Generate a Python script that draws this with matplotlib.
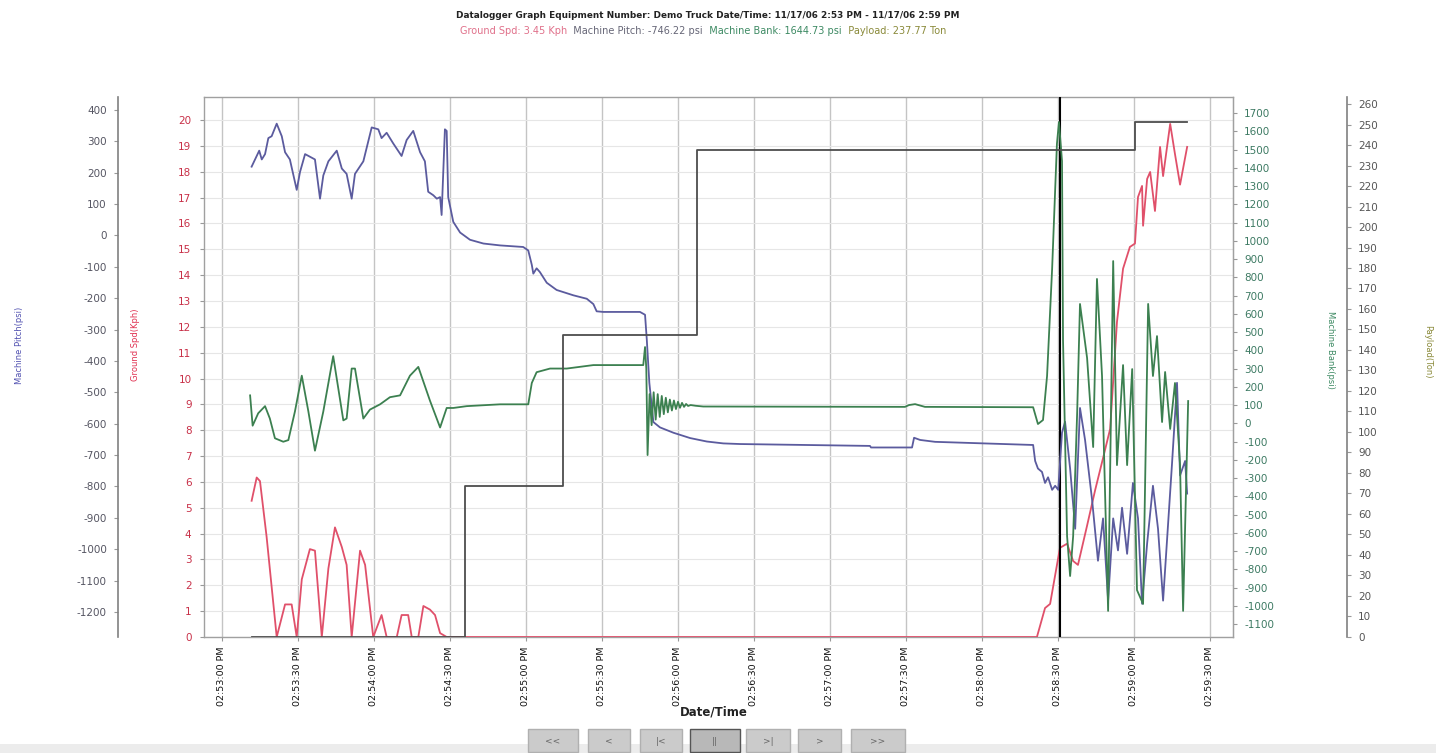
import datetime as dt
import matplotlib
matplotlib.use('Agg')
import matplotlib.pyplot as plt
import matplotlib.patches as mpatches
from matplotlib.ticker import MultipleLocator, FuncFormatter

plt.rcParams['axes.unicode_minus'] = False

# ── Data (seconds after START) ────────────────────────────────────────────
START = dt.datetime(2006, 11, 17, 14, 53, 0)
CURSOR_T = 330.8

pitch_t = [11.7, 13.7, 14.7, 15.7, 17.0, 18.3, 19.6, 21.6, 23.6, 24.9,
           26.8, 29.5, 30.8, 32.8, 36.7, 38.7, 40.0, 42.0, 45.3, 47.3,
           49.2, 51.2, 52.5, 55.8, 59.1, 61.7, 63.0, 65.0, 67.6, 70.9,
           72.9, 75.5, 78.2, 80.1, 81.4, 83.4, 84.8, 86.1, 86.7, 88.0,
           88.7, 89.3, 91.3, 94.0, 97.9, 103.2, 109.8, 118.9, 120.9, 122.3,
           122.9, 124.2, 125.5, 128.2, 132.1, 138.7, 144.0, 146.6, 147.9, 150.5,
           165.0, 167.0, 167.7, 168.7, 170.3, 172.9, 178.2, 184.8, 191.4, 197.9,
           204.5, 255.8, 256.2, 272.4, 273.2, 275.6, 281.5, 320.2, 321.0, 322.1,
           323.7, 324.9, 326.1, 327.7, 328.9, 330.1, 331.6, 332.8, 334.8, 336.8,
           338.7, 340.7, 343.5, 345.8, 347.8, 349.8, 351.8, 353.7, 355.3, 357.3,
           359.6, 361.6, 363.2, 365.2, 367.5, 369.5, 371.5, 375.0, 377.0, 378.2,
           380.2, 381.0]
pitch_v = [219, 253, 270, 242, 259, 310, 316, 356, 316, 265,
           242, 145, 202, 259, 242, 117, 191, 236, 270, 213,
           196, 117, 196, 236, 344, 338, 310, 327, 293, 253,
           304, 333, 265, 236, 139, 128, 117, 122, 65, 338,
           333, 122, 43, 9, -14, -26, -32, -37, -48, -94,
           -122, -105, -117, -151, -174, -191, -202, -219, -242, -244,
           -244, -253, -333, -470, -595, -612, -629, -646, -657, -663,
           -665, -671, -676, -676, -645, -652, -658, -668, -719, -743,
           -754, -789, -771, -811, -798, -811, -629, -594, -743, -935,
           -550, -652, -845, -1037, -902, -1164, -902, -1004, -868, -1015,
           -789, -902, -1174, -982, -798, -935, -1164, -731, -470, -765,
           -719, -823]

bank_t = [11.1, 12.1, 14.3, 17.0, 18.9, 20.9, 24.2, 26.2, 28.8, 31.5,
          34.1, 36.7, 40.0, 43.9, 47.9, 49.2, 51.2, 52.5, 55.8, 58.4,
          62.4, 66.3, 70.3, 74.2, 77.5, 82.1, 86.1, 88.7, 91.3, 96.6,
          109.8, 120.9, 122.3, 124.2, 129.5, 136.1, 146.6, 166.3, 167.0, 167.5,
          168.0, 168.8, 169.6, 170.4, 171.2, 172.0, 172.8, 173.6, 174.4, 175.2,
          176.0, 176.8, 177.6, 178.4, 179.2, 180.0, 180.8, 181.6, 182.4, 183.2,
          184.0, 185.0, 187.0, 190.0, 269.6, 271.2, 273.6, 277.5, 320.2, 322.1,
          324.1, 325.7, 327.7, 329.6, 330.4, 331.6, 332.0, 333.6, 334.8, 336.0,
          337.6, 338.7, 341.5, 343.9, 345.4, 347.4, 349.8, 351.8, 353.3, 355.7,
          357.3, 359.3, 361.2, 363.6, 365.6, 367.5, 369.1, 371.1, 372.3, 374.3,
          376.2, 378.2, 379.4, 381.4]
bank_v = [153, -13, 55, 94, 26, -82, -101, -92, 65, 261,
          65, -150, 65, 368, 16, 26, 300, 300, 26, 75,
          104, 143, 153, 261, 309, 124, -23, 84, 84, 94,
          104, 104, 221, 280, 300, 300, 319, 319, 418, 300,
          -174, 160, -10, 170, 20, 160, 35, 150, 50, 140,
          60, 130, 70, 125, 78, 118, 85, 112, 90, 106,
          95, 100, 96, 92, 90, 100, 105, 90, 88, -4,
          18, 259, 847, 1532, 1651, 1437, 456, -618, -837, -618,
          67, 654, 358, -130, 791, 259, -1028, 889, -229, 319,
          -229, 297, -914, -990, 654, 259, 478, 7, 281, -31,
          221, -229, -1028, 122]

speed_t = [11.7, 13.7, 15.0, 17.6, 21.6, 24.9, 27.5, 29.5, 31.5, 34.7,
           36.7, 39.4, 42.0, 44.6, 47.3, 49.2, 51.2, 54.5, 56.5, 59.7,
           63.0, 65.0, 69.0, 70.9, 73.5, 74.9, 77.5, 79.5, 82.1, 84.1,
           86.1, 88.7, 321.7, 324.9, 326.9, 330.8, 333.6, 336.0, 337.9, 341.5,
           344.7, 347.8, 350.6, 353.3, 355.7, 358.4, 360.4, 361.6, 363.2, 363.6,
           365.2, 366.4, 368.3, 370.3, 371.5, 374.3, 376.2, 378.2, 381.0]
speed_v = [5.27, 6.17, 6.03, 3.89, 0, 1.26, 1.26, 0, 2.23, 3.40,
           3.34, 0, 2.65, 4.24, 3.48, 2.79, 0, 3.34, 2.79, 0,
           0.85, 0, 0, 0.85, 0.85, 0, 0, 1.2, 1.06, 0.85,
           0.15, 0, 0, 1.12, 1.28, 3.45, 3.61, 2.94, 2.79, 4.31,
           5.69, 6.92, 8.05, 12.19, 14.25, 15.09, 15.22, 17.02, 17.45, 15.91,
           17.72, 17.99, 16.48, 18.96, 17.83, 19.85, 18.68, 17.5, 18.96]

payload_t = [11.7, 95.9, 134.7, 187.4, 360.4, 381.0]
payload_v = [0, 73.7, 147.1, 237.8, 251.2, 251.2]

# ── Colors ────────────────────────────────────────────────────────────────
PITCHC = '#5b5b9e'
SPEEDC = '#e0506a'
BANKC = '#3c8050'
PAYC = '#4d4d4d'

W, H = 1436, 753
fig = plt.figure(figsize=(W / 100, H / 100), dpi=100)
fig.patch.set_facecolor('white')


def fx(px):
    return px / W


def fy(py):
    return 1 - py / H


# plot area: x 204..1233, y 97..637 (pixels from top-left)
ax = fig.add_axes([fx(204), fy(637), fx(1233 - 204), (637 - 97) / H])
axb = ax.twinx()   # machine pitch, far left
axg = ax.twinx()   # machine bank, right
axo = ax.twinx()   # payload, far right

TICKFS = 7.5

# speed (primary, inner left)
ax.plot(speed_t, speed_v, color=SPEEDC, lw=1.3, zorder=3)
ax.set_ylim(0, 20.89)
ax.yaxis.set_major_locator(MultipleLocator(1))
ax.tick_params(axis='y', labelsize=TICKFS, labelcolor='#c83048', length=3,
               color='#999999', pad=6)
ax.set_xlim(-7.1, 399.1)
ax.xaxis.set_major_locator(MultipleLocator(30))
ax.xaxis.set_major_formatter(FuncFormatter(
    lambda t, pos: (START + dt.timedelta(seconds=t)).strftime('%I:%M:%S %p')))
ax.tick_params(axis='x', labelsize=6.8, labelrotation=90, labelcolor='#111111',
               length=3, color='#999999', pad=4)
ax.grid(axis='x', color='#c4c4c4', lw=1.0)
ax.grid(axis='y', color='#e6e6e6', lw=0.8)
ax.set_axisbelow(True)
for s in ax.spines.values():
    s.set_color('#a0a0a0')
    s.set_linewidth(1.0)

# machine pitch
axb.plot(pitch_t, pitch_v, color=PITCHC, lw=1.3, zorder=3)
axb.set_ylim(-1280, 441)
axb.yaxis.set_major_locator(MultipleLocator(100))
axb.yaxis.tick_left()
axb.spines['left'].set_position(('axes', (118 - 204) / (1233 - 204)))
axb.spines['left'].set_visible(True)
axb.spines['left'].set_color('#808080')
axb.spines['left'].set_linewidth(1.2)
axb.spines['right'].set_visible(False)
axb.spines['top'].set_visible(False)
axb.spines['bottom'].set_visible(False)
axb.tick_params(axis='y', labelsize=TICKFS, labelcolor='#555562', length=3,
                color='#999999', pad=5)

# machine bank
axg.plot(bank_t, bank_v, color=BANKC, lw=1.3, zorder=3)
axg.set_ylim(-1171, 1788)
axg.yaxis.set_major_locator(MultipleLocator(100))
axg.spines['right'].set_color('#a0a0a0')
axg.tick_params(axis='y', labelsize=TICKFS, labelcolor='#3d7a63', length=3,
                color='#999999', pad=5)
for k in ('left', 'top', 'bottom'):
    axg.spines[k].set_visible(False)

# payload
axo.plot(payload_t, payload_v, color=PAYC, lw=1.3, drawstyle='steps-post', zorder=3)
axo.set_ylim(-0.2, 263.5)
axo.yaxis.set_major_locator(MultipleLocator(10))
axo.spines['right'].set_position(('axes', (1347 - 204) / (1233 - 204)))
axo.spines['right'].set_color('#808080')
axo.spines['right'].set_linewidth(1.2)
axo.tick_params(axis='y', labelsize=TICKFS, labelcolor='#555555', length=3,
                color='#999999', pad=5)
for k in ('left', 'top', 'bottom'):
    axo.spines[k].set_visible(False)

# cursor
ax.axvline(CURSOR_T, color='black', lw=1.5, zorder=6)

# ── Axis titles ───────────────────────────────────────────────────────────
LBLFS = 6
fig.text(fx(20), fy(345), 'Machine Pitch(psi)', rotation=90, ha='center',
         va='center', fontsize=LBLFS, color='#5050b0')
fig.text(fx(135), fy(345), 'Ground Spd(Kph)', rotation=90, ha='center',
         va='center', fontsize=LBLFS, color='#e03050')
fig.text(fx(1330), fy(350), 'Machine Bank(psi)', rotation=-90, ha='center',
         va='center', fontsize=LBLFS, color='#3d8a63')
fig.text(fx(1428), fy(352), 'Payload(Ton)', rotation=-90, ha='center',
         va='center', fontsize=LBLFS, color='#8a8a3a')

fig.text(fx(714), fy(712), 'Date/Time', ha='center', va='center',
         fontsize=8.5, fontweight='bold', color='#222222')

# ── Title ─────────────────────────────────────────────────────────────────
fig.text(fx(708), fy(15),
         'Datalogger Graph Equipment Number: Demo Truck Date/Time: '
         '11/17/06 2:53 PM - 11/17/06 2:59 PM',
         ha='center', va='center', fontsize=6.4, fontweight='bold', color='#222222')
segs = [('Ground Spd: 3.45 Kph', '#e0708a'),
        ('  Machine Pitch: -746.22 psi', '#666677'),
        ('  Machine Bank: 1644.73 psi', '#3d8a63'),
        ('  Payload: 237.77 Ton', '#8a8a3a')]
prev = None
for txt, col in segs:
    if prev is None:
        prev = ax.annotate(txt, xy=(460, H - 36), xycoords='figure pixels',
                           ha='left', va='bottom', fontsize=7.0, color=col,
                           annotation_clip=False)
    else:
        prev = ax.annotate(txt, xy=(1, 0), xycoords=prev, ha='left', va='bottom',
                           fontsize=7.0, color=col, annotation_clip=False)

# ── Navigation buttons ────────────────────────────────────────────────────
fig.add_artist(mpatches.Rectangle((0, 0), 1, fy(744), transform=fig.transFigure,
                                  facecolor='#ececec', edgecolor='none', zorder=0))
buttons = [('<<', 528, 578), ('<', 588, 630), ('|<', 640, 682), ('||', 690, 740),
           ('>|', 746, 790), ('>', 798, 841), ('>>', 851, 905)]
for lab, x0, x1 in buttons:
    pressed = lab == '||'
    fig.add_artist(mpatches.Rectangle(
        (fx(x0), fy(752)), fx(x1 - x0), (752 - 729) / H, transform=fig.transFigure,
        facecolor='#b8b8b8' if pressed else '#cbcbcb',
        edgecolor='#555555' if pressed else '#b0b0b0', lw=1.0, zorder=2))
    fig.text(fx((x0 + x1) / 2), fy(741), lab, ha='center', va='center',
             fontsize=6.5, color='#666666', zorder=3)

fig.savefig('out.png', dpi=100)
